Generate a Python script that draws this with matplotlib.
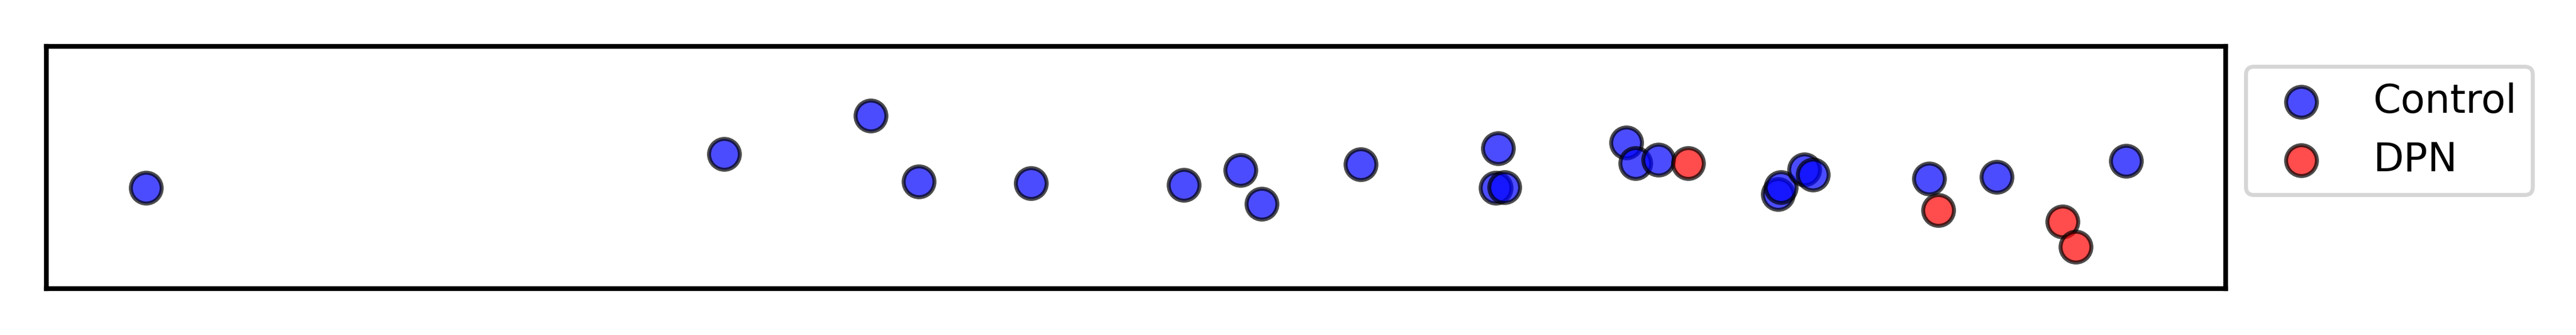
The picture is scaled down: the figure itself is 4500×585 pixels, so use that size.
import numpy as np
import matplotlib
matplotlib.use('Agg')
import matplotlib.pyplot as plt

# Координаты точек (единицы осей произвольные, тики скрыты)
control_x = [0.457, 3.110, 3.782, 4.003, 4.517, 5.218, 5.480, 5.575, 6.029, 6.661, 6.651,
             6.690, 7.249, 7.291, 7.396, 7.945, 7.958, 8.066, 8.105, 8.638, 8.948, 9.541]
control_y = [4.147, 5.545, 7.133, 4.408, 4.336, 4.265, 4.882, 3.483, 5.118, 5.782, 4.147,
             4.171, 6.019, 5.166, 5.308, 3.886, 4.171, 4.905, 4.692, 4.526, 4.597, 5.261]

dpn_x = [7.533, 8.680, 9.249, 9.310]
dpn_y = [5.166, 3.223, 2.749, 1.706]

fig = plt.figure(figsize=(9, 1.17), dpi=500)
ax = fig.add_axes([0.0180, 0.1393, 0.8461, 0.7222])

ax.scatter(control_x, control_y, s=60, color='blue', alpha=0.7, edgecolor='black', label='Control')
ax.scatter(dpn_x, dpn_y, s=60, color='red', alpha=0.7, edgecolor='black', label='DPN')

ax.set_xlim(0, 10)
ax.set_ylim(0, 10)
ax.set_xticks([])
ax.set_yticks([])
for sp in ax.spines.values():
    sp.set_linewidth(1.2)
ax.legend(loc='upper left', bbox_to_anchor=(1, 1))

plt.savefig('out.png', dpi=500)
